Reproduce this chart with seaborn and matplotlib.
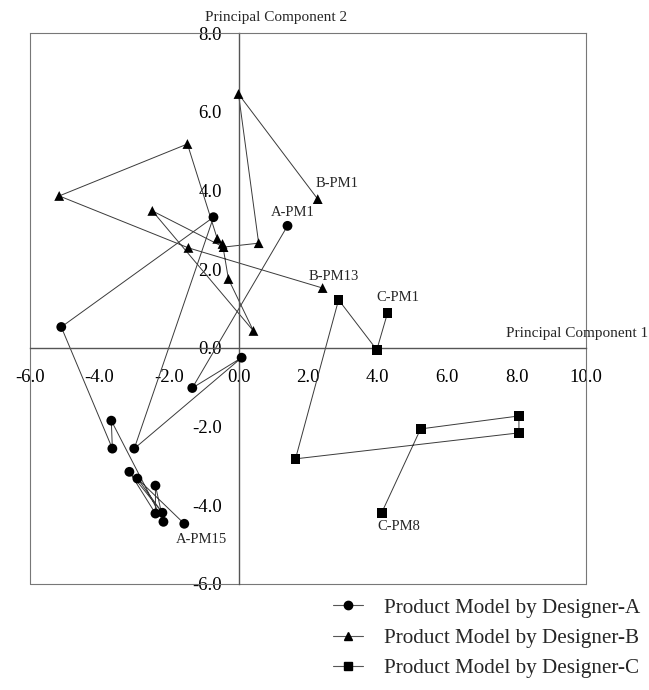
import matplotlib
matplotlib.use("Agg")
import matplotlib.pyplot as plt
import seaborn as sns
import pandas as pd
from matplotlib.lines import Line2D

# Principal component scores for each product model, in model order (PM1, PM2, ...)
designer_a_pc1 = [1.41, -1.33, 0.09, -3.00, -0.72, -5.10, -3.63, -3.66, -2.16, -2.39, -2.39, -3.14, -2.19, -2.91, -1.56]
designer_a_pc2 = [3.10, -1.02, -0.25, -2.56, 3.32, 0.53, -2.56, -1.85, -4.42, -3.50, -4.21, -3.15, -4.19, -3.32, -4.47]

designer_b_pc1 = [2.28, 0.00, 0.58, -0.43, -2.48, 0.43, -0.29, -0.46, -0.61, -1.47, -5.16, -1.44, 2.42]
designer_b_pc2 = [3.78, 6.45, 2.66, 2.56, 3.48, 0.43, 1.75, 2.64, 2.77, 5.18, 3.86, 2.54, 1.52]

designer_c_pc1 = [4.29, 3.98, 2.88, 1.64, 8.07, 8.07, 5.24, 4.12]
designer_c_pc2 = [0.89, -0.05, 1.22, -2.82, -2.16, -1.73, -2.06, -4.19]

designers = ["A", "B", "C"]
legend_labels = ["Product Model by Designer-A", "Product Model by Designer-B", "Product Model by Designer-C"]
x_ticks = [-6.0, -4.0, -2.0, 0.0, 2.0, 4.0, 6.0, 8.0, 10.0]
y_ticks = [-6.0, -4.0, -2.0, 0.0, 2.0, 4.0, 6.0, 8.0]

frames = []
for name, xs, ys in [("A", designer_a_pc1, designer_a_pc2),
                     ("B", designer_b_pc1, designer_b_pc2),
                     ("C", designer_c_pc1, designer_c_pc2)]:
    frames.append(pd.DataFrame({"pc1": xs, "pc2": ys, "designer": name,
                                "model": range(1, len(xs) + 1)}))
df = pd.concat(frames, ignore_index=True)

sns.set_style("white")
plt.rcParams["font.family"] = ["Liberation Serif", "DejaVu Serif"]

fig = plt.figure(figsize=(6.49, 6.90), dpi=100)
ax = fig.add_axes([30 / 649, 1 - 584 / 690, 556 / 649, 551 / 690])

line_col = "#3a3a3a"
axis_col = "#555555"
markers = {"A": "o", "B": "^", "C": "s"}

# connecting lines in model order, one trace per designer
sns.lineplot(data=df, x="pc1", y="pc2", units="designer", estimator=None, sort=False,
             color=line_col, linewidth=0.7, ax=ax, legend=False, zorder=2)
# product model markers
sns.scatterplot(data=df, x="pc1", y="pc2", style="designer", markers=markers,
                color="black", s=50, linewidth=0, ax=ax, legend=False, zorder=3)

ax.set_xlim(-6, 10)
ax.set_ylim(-6, 8)
ax.set_xticks(x_ticks)
ax.set_yticks(y_ticks)
ax.set_xticklabels([f"{v:.1f}" for v in x_ticks])
ax.set_yticklabels([f"{v:.1f}" for v in y_ticks])
ax.set_xlabel("")
ax.set_ylabel("")

# axes crossing at the origin, with an outer frame
ax.spines["left"].set_position(("data", 0))
ax.spines["bottom"].set_position(("data", 0))
for side in ["left", "bottom"]:
    ax.spines[side].set_color(axis_col)
    ax.spines[side].set_linewidth(1.0)
for side in ["top", "right"]:
    ax.spines[side].set_color("#777777")
    ax.spines[side].set_linewidth(0.8)
for xy in [([0, 0], [0, 1]), ([0, 1], [0, 0])]:
    ax.plot(xy[0], xy[1], transform=ax.transAxes, color="#777777", lw=0.8, clip_on=False)

ax.tick_params(axis="both", direction="in", length=4, width=0.8, color=axis_col,
               labelsize=13.5, labelcolor="black")
ax.tick_params(axis="x", pad=15)
ax.tick_params(axis="y", pad=12)

# axis titles
fig.text(276 / 649, 1 - 17 / 690, "Principal Component 2", ha="center", va="center", fontsize=11)
fig.text(577 / 649, 1 - 334 / 690, "Principal Component 1", ha="center", va="center", fontsize=11)

# point annotations (first/last model of each designer)
notes = [("A-PM1", designer_a_pc1[0], designer_a_pc2[0], (5, 13)),
         ("A-PM15", designer_a_pc1[-1], designer_a_pc2[-1], (17, -16)),
         ("B-PM1", designer_b_pc1[0], designer_b_pc2[0], (19, 16)),
         ("B-PM13", designer_b_pc1[-1], designer_b_pc2[-1], (11, 12)),
         ("C-PM1", designer_c_pc1[0], designer_c_pc2[0], (10, 15)),
         ("C-PM8", designer_c_pc1[-1], designer_c_pc2[-1], (17, -14))]
for text, px, py, off in notes:
    ax.annotate(text, (px, py), xytext=off, textcoords="offset pixels",
                ha="center", va="center", fontsize=10.5)

handles = [Line2D([0], [0], color="#555555", lw=0.8, marker=markers[d],
                  markerfacecolor="black", markeredgecolor="black", markersize=6)
           for d in designers]
fig.legend(handles, legend_labels, loc="upper left", bbox_to_anchor=(333 / 649, 1 - 598 / 690),
           frameon=False, fontsize=15.2, handlelength=1.4, handletextpad=1.0,
           labelspacing=0.5, borderpad=0, borderaxespad=0)

fig.savefig("out.png", dpi=100)
